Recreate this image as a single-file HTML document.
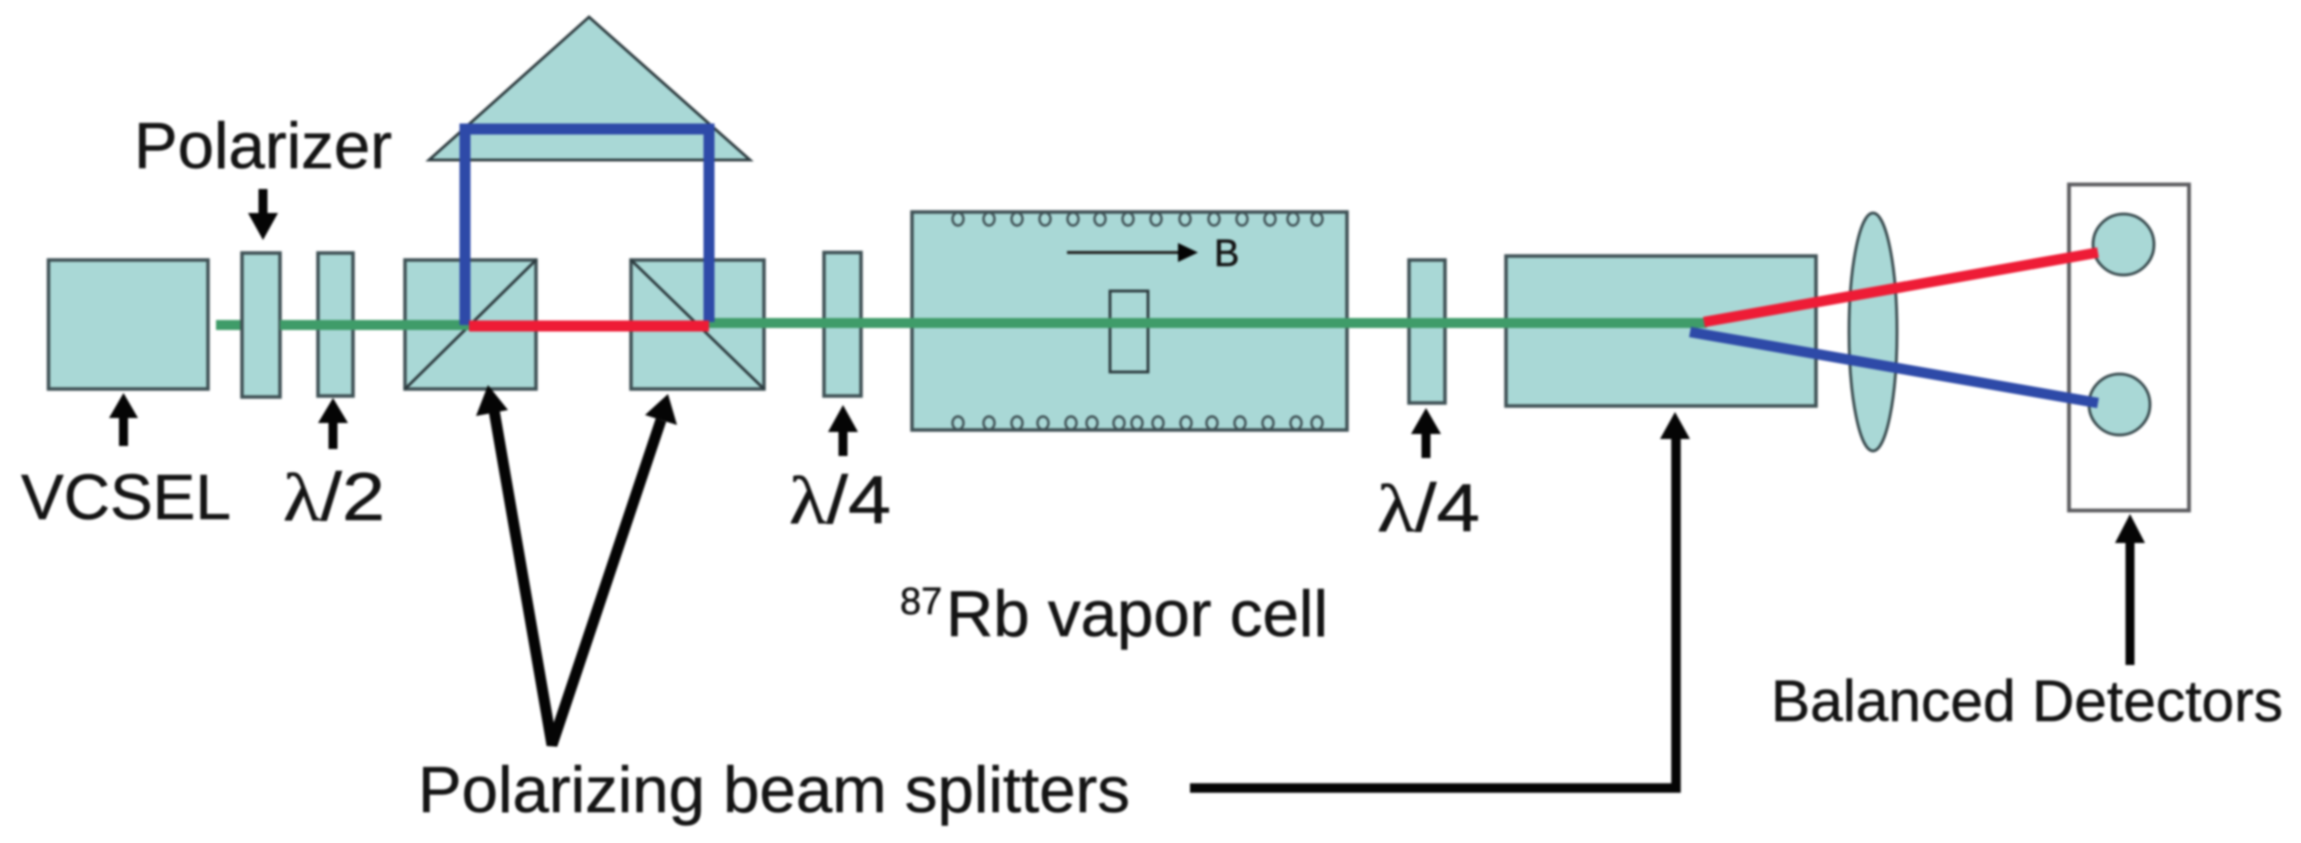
<!DOCTYPE html>
<html>
<head>
<meta charset="utf-8">
<style>
html,body{margin:0;padding:0;background:#fff;width:2301px;height:843px;overflow:hidden}
svg{display:block;filter:blur(1.1px)}
text{font-family:"Liberation Sans",sans-serif;fill:#141414;stroke:#141414;stroke-width:0.5}
.o{fill:#a9d8d6;stroke:#3f5155;stroke-width:3.5}
.t{fill:none;stroke:#2c3a3e;stroke-width:2.8}
.c{fill:#a9d8d6;stroke:#384a4e;stroke-width:2.8}
.a{stroke:#050505;stroke-width:9;fill:none}
.h{fill:#050505;stroke:none}
</style>
</head>
<body>
<svg width="2301" height="843" viewBox="0 0 2301 843" xmlns="http://www.w3.org/2000/svg">
<rect width="2301" height="843" fill="#fff"/>

<!-- prism -->
<polygon fill="#a9d8d6" stroke="#2c3a3e" stroke-width="2.8" points="589,17 429,160 750,160"/>

<!-- green left beam (behind polarizer) -->
<line x1="216" y1="325" x2="242" y2="325" stroke="#3f9c69" stroke-width="10"/>

<!-- components -->
<rect class="o" x="48.5" y="260" width="159.5" height="129"/>
<rect class="o" x="242" y="253" width="38" height="144"/>
<rect class="o" x="318" y="253" width="35" height="143"/>
<rect class="o" x="405" y="260" width="131" height="129"/>
<line class="t" x1="405" y1="389" x2="536" y2="260"/>
<rect class="o" x="631" y="260" width="133" height="129"/>
<line class="t" x1="631" y1="260" x2="764" y2="389"/>
<rect class="o" x="824" y="252.5" width="37" height="143.5"/>
<rect class="o" x="912" y="212" width="435" height="218"/>
<rect class="o" x="1409" y="260" width="36" height="143"/>
<rect class="o" x="1506" y="256" width="310" height="150"/>
<ellipse class="c" cx="1873" cy="332" rx="24" ry="119"/>
<rect x="2069" y="184.5" width="120" height="326" fill="#fff" stroke="#5c5c60" stroke-width="3.8"/>
<circle class="c" cx="2123.5" cy="244.5" r="30.5"/>
<circle class="c" cx="2119.5" cy="404.5" r="30.5"/>

<!-- coils -->
<g fill="none" stroke="#3f5155" stroke-width="2.4">
<ellipse cx="958" cy="219" rx="5.5" ry="6.5"/><ellipse cx="989" cy="219" rx="5.5" ry="6.5"/><ellipse cx="1017" cy="219" rx="5.5" ry="6.5"/><ellipse cx="1045" cy="219" rx="5.5" ry="6.5"/><ellipse cx="1073" cy="219" rx="5.5" ry="6.5"/><ellipse cx="1100" cy="219" rx="5.5" ry="6.5"/><ellipse cx="1128" cy="219" rx="5.5" ry="6.5"/><ellipse cx="1156" cy="219" rx="5.5" ry="6.5"/><ellipse cx="1185" cy="219" rx="5.5" ry="6.5"/><ellipse cx="1214" cy="219" rx="5.5" ry="6.5"/><ellipse cx="1242" cy="219" rx="5.5" ry="6.5"/><ellipse cx="1270" cy="219" rx="5.5" ry="6.5"/><ellipse cx="1293" cy="219" rx="5.5" ry="6.5"/><ellipse cx="1317" cy="219" rx="5.5" ry="6.5"/>
<ellipse cx="958" cy="423" rx="5.5" ry="6.5"/><ellipse cx="989" cy="423" rx="5.5" ry="6.5"/><ellipse cx="1017" cy="423" rx="5.5" ry="6.5"/><ellipse cx="1043" cy="423" rx="5.5" ry="6.5"/><ellipse cx="1071" cy="423" rx="5.5" ry="6.5"/><ellipse cx="1092" cy="423" rx="5.5" ry="6.5"/><ellipse cx="1119" cy="423" rx="5.5" ry="6.5"/><ellipse cx="1137" cy="423" rx="5.5" ry="6.5"/><ellipse cx="1158" cy="423" rx="5.5" ry="6.5"/><ellipse cx="1186" cy="423" rx="5.5" ry="6.5"/><ellipse cx="1212" cy="423" rx="5.5" ry="6.5"/><ellipse cx="1240" cy="423" rx="5.5" ry="6.5"/><ellipse cx="1268" cy="423" rx="5.5" ry="6.5"/><ellipse cx="1296" cy="423" rx="5.5" ry="6.5"/><ellipse cx="1317" cy="423" rx="5.5" ry="6.5"/>
</g>

<!-- inner cell -->
<rect class="t" x="1110" y="291" width="38" height="81"/>

<!-- field arrow -->
<line x1="1067" y1="252.5" x2="1182" y2="252.5" stroke="#222" stroke-width="3"/>
<polygon class="h" points="1198,252.5 1178,243 1178,262"/>
<text x="1214" y="266" font-size="38">B</text>

<!-- beams -->
<line x1="280" y1="325" x2="469" y2="325" stroke="#3f9c69" stroke-width="10"/>
<line x1="709" y1="323" x2="1707" y2="323" stroke="#3f9c69" stroke-width="10"/>
<polyline points="465,325 465,129 709,129 709,322" fill="none" stroke="#2e4aa8" stroke-width="11" stroke-linejoin="miter"/>
<line x1="469" y1="326" x2="709" y2="326" stroke="#ee1c36" stroke-width="11"/>
<line x1="1704" y1="322" x2="2098" y2="252.5" stroke="#ee1c36" stroke-width="10.5"/>
<line x1="1690" y1="332" x2="2098" y2="403" stroke="#2e4aa8" stroke-width="10.5"/>

<!-- small arrows -->
<line class="a" x1="263" y1="189" x2="263" y2="218"/><polygon class="h" points="263,240 248,213 278,213"/>
<line class="a" x1="123.5" y1="446" x2="123.5" y2="413"/><polygon class="h" points="123.5,393 109,418 138,418"/>
<line class="a" x1="333" y1="449" x2="333" y2="418"/><polygon class="h" points="333,398 318,423 348,423"/>
<line class="a" x1="843" y1="456" x2="843" y2="427"/><polygon class="h" points="843,405 828,432 858,432"/>
<line class="a" x1="1426" y1="458" x2="1426" y2="429"/><polygon class="h" points="1426,408 1411,434 1441,434"/>
<line class="a" x1="2130" y1="665" x2="2130" y2="538"/><polygon class="h" points="2130,514 2115,543 2145,543"/>

<!-- beam splitter arrows -->
<polyline points="494,410 552,745 661,420" fill="none" stroke="#050505" stroke-width="11" stroke-linejoin="bevel"/>
<polygon class="h" points="488,385 476,416 508,410"/>
<polygon class="h" points="668,394 645,415 677,425"/>
<polyline points="1190,788 1676,788 1676,434" fill="none" stroke="#050505" stroke-width="9.5"/>
<polygon class="h" points="1675,412 1660,439 1690,439"/>

<!-- labels -->
<text x="134" y="168" font-size="65" textLength="258" lengthAdjust="spacingAndGlyphs">Polarizer</text>
<text x="21" y="519" font-size="64" textLength="210" lengthAdjust="spacingAndGlyphs">VCSEL</text>
<text x="283" y="520" font-size="68" textLength="102" lengthAdjust="spacingAndGlyphs"><tspan font-family="Liberation Serif">λ</tspan>/2</text>
<text x="789" y="523" font-size="68" textLength="102" lengthAdjust="spacingAndGlyphs"><tspan font-family="Liberation Serif">λ</tspan>/4</text>
<text x="1377" y="531" font-size="68" textLength="103" lengthAdjust="spacingAndGlyphs"><tspan font-family="Liberation Serif">λ</tspan>/4</text>
<text x="900" y="614" font-size="38">87</text>
<text x="946" y="636" font-size="65" textLength="382" lengthAdjust="spacingAndGlyphs">Rb vapor cell</text>
<text x="418" y="812" font-size="65" textLength="712" lengthAdjust="spacingAndGlyphs">Polarizing beam splitters</text>
<text x="1771" y="721" font-size="58" textLength="512" lengthAdjust="spacingAndGlyphs">Balanced Detectors</text>
</svg>
</body>
</html>
